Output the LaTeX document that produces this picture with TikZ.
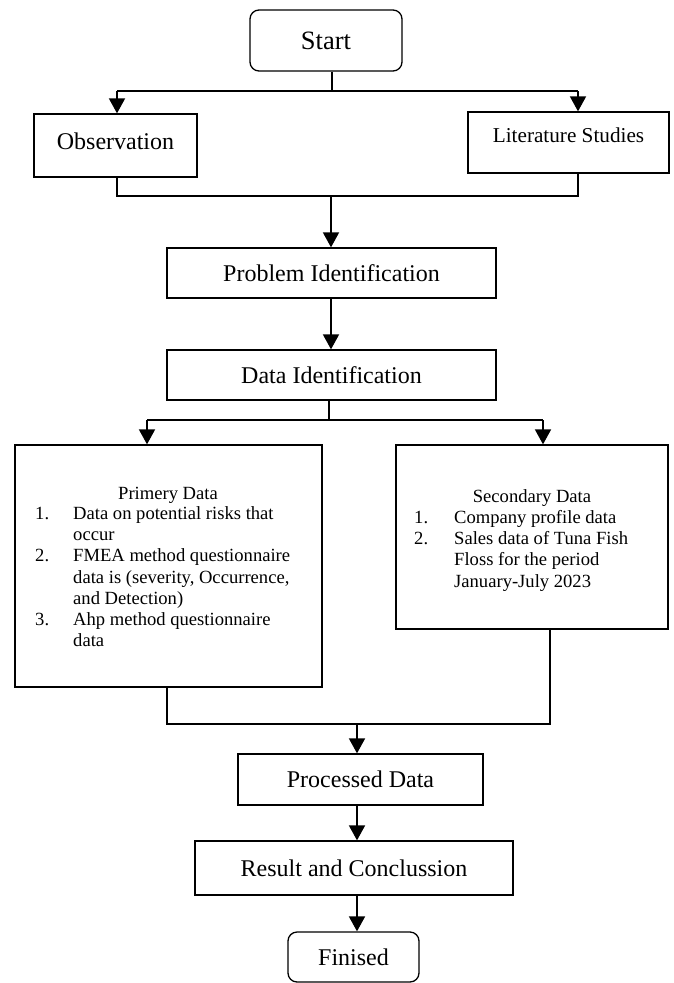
\documentclass[tikz,border=0pt]{standalone}
\usepackage{fontspec}
\setmainfont{Liberation Serif}
\usetikzlibrary{arrows.meta}
\newcommand\fbig{\fontsize{24}{28}\selectfont}
\newcommand\fstart{\fontsize{26.5}{30}\selectfont}
\newcommand\flit{\fontsize{21.2}{25}\selectfont}
\newcommand\fsmall{\fontsize{18.6}{21.3}\selectfont}
\tikzset{
  box/.style={draw, line width=1.3pt, inner sep=0pt, font=\fbig},
  rbox/.style={box, rounded corners=9pt},
  conn/.style={line width=1.8pt},
  arr/.style={conn, -{Triangle[width=16pt,length=15pt]}},
}
\begin{document}
\begin{tikzpicture}[x=1pt,y=-1pt]
\useasboundingbox (0,0) rectangle (673,983);
% nodes
\node[rbox, font=\fstart, minimum width=152pt, minimum height=61pt] (start) at (326,40.5) {Start};
\node[box, minimum width=163pt, minimum height=63pt] (obs) at (115.5,145.5) {};
\node[font=\fbig, inner sep=0pt] (obstxt) at (115.5,141) {Observation};
\node[box, minimum width=201pt, minimum height=61pt] (lit) at (568.5,142.5) {};
\node[font=\flit, inner sep=0pt] (littxt) at (568.5,135) {Literature Studies};
\node[box, minimum width=329pt, minimum height=50pt] (pi) at (331.5,273) {Problem Identification};
\node[box, minimum width=329pt, minimum height=50pt] (di) at (331.5,375) {Data Identification};
\node[box, minimum width=307pt, minimum height=242pt] (prim) at (168.5,566) {};
\node[anchor=base, font=\fsmall, inner sep=0pt] (primhead) at (168,499) {Primery Data};
\node[anchor=north west, font=\fsmall, inner sep=0pt] (primlist) at (35,504) {%
\begin{tabular}{@{}p{38pt}@{}l@{}}
1. & Data on potential risks that\\
   & occur\\
2. & FMEA method questionnaire\\
   & data is (severity, Occurrence,\\
   & and Detection)\\
3. & Ahp method questionnaire\\
   & data
\end{tabular}};
\node[box, minimum width=272pt, minimum height=184pt] (sec) at (532,537) {};
\node[anchor=base, font=\fsmall, inner sep=0pt] (sechead) at (532,502) {Secondary Data};
\node[anchor=north west, font=\fsmall, inner sep=0pt] (seclist) at (414,508) {%
\begin{tabular}{@{}p{40pt}@{}l@{}}
1. & Company profile data\\
2. & Sales data of Tuna Fish\\
   & Floss for the period\\
   & January-July 2023
\end{tabular}};
\node[box, minimum width=245pt, minimum height=51pt] (proc) at (360.5,779.5) {Processed Data};
\node[box, minimum width=318pt, minimum height=54pt] (res) at (354,868) {Result and Conclussion};
\node[rbox, minimum width=131pt, minimum height=50pt] (fin) at (353.5,957) {Finised};
% coordinates
\coordinate (b1) at (332,91);
\coordinate (bL) at (117,91);
\coordinate (bR) at (578,91);
\coordinate (jL) at (117,196);
\coordinate (jR) at (578,196);
\coordinate (jM) at (331,196);
\coordinate (dM) at (329,420);
\coordinate (dL) at (147,420);
\coordinate (dR) at (543,420);
\coordinate (pL) at (167,724);
\coordinate (pR) at (550,724);
\coordinate (pM) at (357,724);
% connectors
\draw[conn] (start.south -| b1) -- (b1);
\draw[conn] (bL) -- (bR);
\draw[arr] (bL) -- (bL |- obs.north);
\draw[arr] (bR) -- (bR |- lit.north);
\draw[conn] (obs.south -| jL) -- (jL) -- (jR) -- (lit.south -| jR);
\draw[arr] (jM) -- (jM |- pi.north);
\draw[arr] (pi.south -| jM) -- (di.north -| jM);
\draw[conn] (di.south -| dM) -- (dM);
\draw[conn] (dL) -- (dR);
\draw[arr] (dL) -- (dL |- prim.north);
\draw[arr] (dR) -- (dR |- sec.north);
\draw[conn] (prim.south -| pL) -- (pL) -- (pR) -- (sec.south -| pR);
\draw[arr] (pM) -- (pM |- proc.north);
\draw[arr] (proc.south -| pM) -- (res.north -| pM);
\draw[arr] (res.south -| pM) -- (fin.north -| pM);
\end{tikzpicture}
\end{document}
